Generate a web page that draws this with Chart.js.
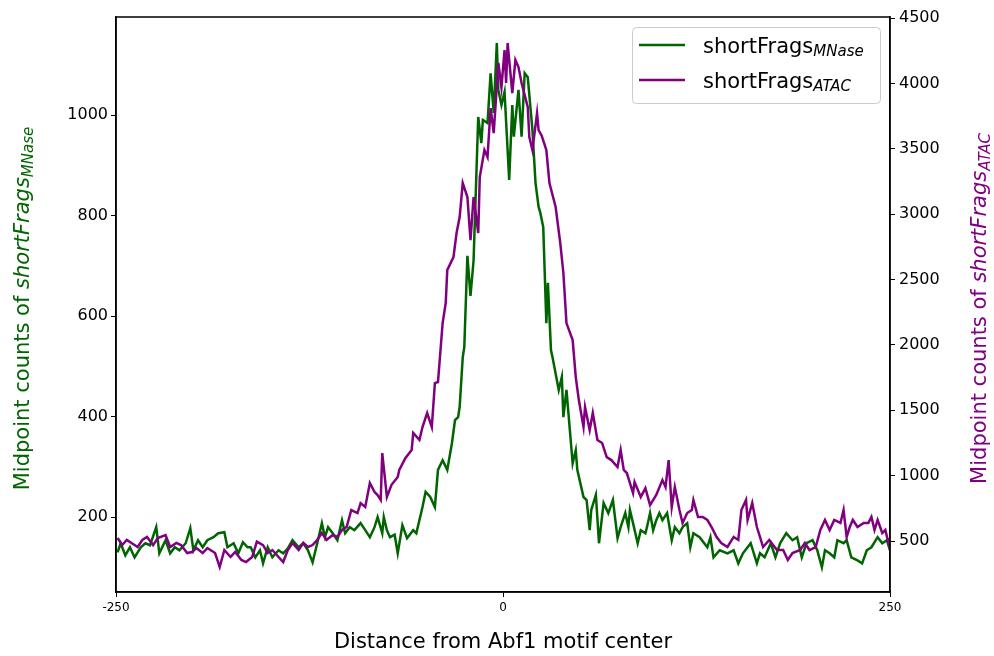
<!DOCTYPE html>
<html>
<head>
<meta charset="utf-8">
<script src="https://cdn.jsdelivr.net/npm/chart.js@4.4.1/dist/chart.umd.min.js"></script>
<style>
  html, body { margin: 0; padding: 0; background: #fff; }
  #wrap { width: 994px; height: 656px; position: relative; }
</style>
</head>
<body>
<div id="wrap"><canvas id="chart"></canvas></div>
<script>
// Data

// shortFrags MNase (left axis)
const mnasePos = [
  -249,-247,-244,-241,-238,-234,-231,-228,-224,-222,
  -218,-215,-212,-209,-205,-202,-200,-197,-194,-191,
  -187,-184,-180,-178,-174,-171,-168,-165,-163,-160,
  -157,-155,-152,-149,-145,-142,-139,-136,-132,-129,
  -126,-123,-120,-117,-115,-113,-110,-107,-104,-102,
  -99,-96,-92,-89,-86,-83,-81,-78,-77,-75,
  -73,-70,-68,-65,-62,-58,-56,-52,-50,-47,
  -44,-42,-39,-36,-33,-31,-29,-28,-26,-25,
  -23,-21,-19,-16,-14,-13,-10,-8,-6,-4,
  -3,-1,1,4,6,7,10,12,14,16,
  19,21,23,24,26,28,29,31,32,36,
  38,39,41,45,47,48,52,54,56,57,
  60,62,65,68,71,74,76,79,81,82,
  84,87,89,92,93,95,97,99,101,103,
  106,109,111,114,116,119,121,123,127,132,
  134,136,140,145,149,152,155,160,164,166,
  169,173,176,179,183,187,190,193,196,200,
  203,206,208,211,214,216,220,222,225,229,
  232,235,238,242,245,248,250
];
const mnaseVals = [
  130,148,124,140,120,140,148,144,180,128,
  154,128,140,134,148,178,134,154,140,154,
  160,168,170,140,148,128,150,140,140,120,
  134,108,140,120,134,128,138,154,140,148,
  134,110,148,188,160,180,168,154,194,168,
  180,174,188,174,160,180,200,168,200,174,
  160,165,128,184,158,174,168,220,250,240,
  220,294,313,294,347,393,399,419,518,538,
  720,640,711,996,944,990,984,1083,1004,1143,
  1050,1020,1046,871,1020,957,1050,957,1083,1075,
  971,865,817,807,777,586,666,532,518,453,
  479,399,453,307,333,294,240,234,174,214,
  244,148,228,208,234,158,180,208,180,214,
  188,148,174,168,180,208,174,194,208,194,
  208,154,180,168,180,188,140,168,160,140,
  160,120,134,128,134,108,128,148,108,128,
  120,148,120,148,168,154,160,120,148,154,
  134,100,134,128,120,154,148,154,120,114,
  108,134,140,160,148,154,134
];

// shortFrags ATAC (right axis)
const atacPos = [
  -249,-246,-243,-240,-236,-233,-230,-226,-223,-218,
  -215,-211,-208,-204,-201,-198,-194,-191,-186,-183,
  -180,-176,-173,-169,-166,-162,-159,-155,-152,-149,
  -145,-142,-139,-136,-132,-129,-126,-123,-120,-117,
  -114,-110,-107,-104,-101,-98,-94,-92,-89,-86,
  -83,-81,-79,-78,-75,-72,-68,-67,-63,-59,
  -58,-54,-52,-49,-46,-44,-42,-39,-37,-36,
  -32,-30,-28,-26,-23,-21,-19,-16,-15,-12,
  -10,-8,-6,-3,-1,1,2,3,6,8,
  10,12,16,17,19,22,23,25,28,30,
  34,37,39,41,45,47,49,52,53,56,
  58,61,64,67,70,74,76,78,80,84,
  85,89,92,95,99,103,105,107,109,111,
  114,116,119,122,123,126,129,132,135,138,
  141,145,149,152,154,157,158,161,164,166,
  168,172,177,181,184,187,192,195,198,202,
  205,208,211,214,218,220,222,224,226,229,
  233,236,238,240,242,245,247,249,250
];
const atacVals = [
  523,469,508,485,454,508,531,469,523,546,
  454,485,469,408,416,446,408,446,408,301,
  431,378,416,355,339,378,495,469,408,431,
  378,339,431,485,431,485,454,469,508,561,
  508,546,531,584,607,737,714,790,760,944,
  875,852,814,1173,837,930,990,1043,1135,1196,
  1326,1273,1372,1479,1372,1708,1716,2167,2320,2573,
  2672,2856,2978,3238,3131,2802,3131,2856,3284,3490,
  3437,3811,3620,4156,3972,4255,4003,4308,3926,4179,
  4125,4003,3819,3590,3490,3773,3643,3600,3490,3238,
  3055,2779,2550,2167,2037,1754,1578,1372,1525,1349,
  1479,1273,1250,1142,1119,1066,1196,1043,1020,867,
  951,837,905,775,852,966,913,1119,760,913,
  737,638,714,737,814,684,684,661,600,531,
  485,454,531,508,737,814,661,790,607,531,
  454,508,431,431,355,408,431,485,431,454,
  584,661,584,661,638,737,531,607,661,607,
  638,638,684,584,661,561,584,485,520
];

// Tick labels
const xTicks = [-250, 0, 250];
const leftTicks = [200, 400, 600, 800, 1000];
const rightTicks = [500, 1000, 1500, 2000, 2500, 3000, 3500, 4000, 4500];

const GREEN = '#006400';
const PURPLE = '#800080';
const FONT = "'DejaVu Sans', sans-serif";

// draw a run of text pieces (normal / italic / subscript), centred on x
function drawPieces(ctx, pieces, x, y) {
    let total = 0;
    pieces.forEach(p => { ctx.font = p.font; p.w = ctx.measureText(p.text).width; total += p.w; });
    let cx = x - total / 2;
    pieces.forEach(p => {
        ctx.font = p.font;
        ctx.fillText(p.text, cx, y + (p.dy || 0));
        cx += p.w;
    });
}

function labelPieces(sub, size) {
    const s = Math.round(size * 0.7);
    return [
        { text: 'Midpoint counts of ', font: `${size}px ${FONT}` },
        { text: 'shortFrags', font: `italic ${size}px ${FONT}` },
        { text: sub, font: `italic ${s}px ${FONT}`, dy: 4 }
    ];
}

// box round the plot, axis titles and legend with subscripts
const decorPlugin = {
    id: 'decor',
    afterDraw(chart) {
        const ctx = chart.ctx;
        const a = chart.chartArea;
        ctx.save();

        // frame
        ctx.strokeStyle = '#000';
        ctx.lineWidth = 1.5;
        ctx.strokeRect(a.left, a.top, a.right - a.left, a.bottom - a.top);

        ctx.textBaseline = 'alphabetic';
        ctx.textAlign = 'left';
        const size = 21;
        const midY = (a.top + a.bottom) / 2 + 4;

        // x title
        ctx.fillStyle = '#000';
        drawPieces(ctx, [{ text: 'Distance from Abf1 motif center', font: `${size}px ${FONT}` }],
            (a.left + a.right) / 2, 648);

        // left title
        ctx.save();
        ctx.translate(29, midY);
        ctx.rotate(-Math.PI / 2);
        ctx.fillStyle = GREEN;
        drawPieces(ctx, labelPieces('MNase', size), 0, 0);
        ctx.restore();

        // right title
        ctx.save();
        ctx.translate(986, midY);
        ctx.rotate(-Math.PI / 2);
        ctx.fillStyle = PURPLE;
        drawPieces(ctx, labelPieces('ATAC', size), 0, 0);
        ctx.restore();

        // legend
        const w = 248, h = 76;
        const lx = a.right - 10 - w, ly = a.top + 10;
        ctx.beginPath();
        ctx.roundRect(lx + 0.5, ly + 0.5, w, h, 4);
        ctx.fillStyle = 'rgba(255,255,255,0.8)';
        ctx.fill();
        ctx.strokeStyle = '#cccccc';
        ctx.lineWidth = 1;
        ctx.stroke();

        const rows = [
            { color: GREEN, sub: 'MNase', y: ly + 18 },
            { color: PURPLE, sub: 'ATAC', y: ly + 53 }
        ];
        rows.forEach(r => {
            ctx.strokeStyle = r.color;
            ctx.lineWidth = 2.5;
            ctx.beginPath();
            ctx.moveTo(lx + 7, r.y);
            ctx.lineTo(lx + 53, r.y);
            ctx.stroke();
            ctx.fillStyle = '#000';
            ctx.font = `${size}px ${FONT}`;
            ctx.fillText('shortFrags', lx + 71, r.y + 8);
            const tw = ctx.measureText('shortFrags').width;
            ctx.font = `italic ${Math.round(size * 0.7)}px ${FONT}`;
            ctx.fillText(r.sub, lx + 71 + tw, r.y + 11);
        });

        ctx.restore();
    }
};

const plain = v => String(v);

const ctx = document.getElementById('chart');

new Chart(ctx, {
    type: 'line',
    data: {
        datasets: [
            {
                label: 'shortFrags MNase',
                data: mnasePos.map((p, i) => ({ x: p, y: mnaseVals[i] })),
                borderColor: GREEN,
                borderWidth: 2.5,
                pointRadius: 0,
                tension: 0,
                yAxisID: 'yL',
                order: 2
            },
            {
                label: 'shortFrags ATAC',
                data: atacPos.map((p, i) => ({ x: p, y: atacVals[i] })),
                borderColor: PURPLE,
                borderWidth: 2.5,
                pointRadius: 0,
                tension: 0,
                yAxisID: 'yR',
                order: 1
            }
        ]
    },
    options: {
        responsive: true,
        maintainAspectRatio: false,
        animation: false,
        devicePixelRatio: 1,
        layout: { padding: { top: 17, left: 0, right: 0, bottom: 0 } },
        plugins: {
            legend: { display: false },
            tooltip: { enabled: false }
        },
        scales: {
            x: {
                type: 'linear',
                position: 'bottom',
                min: -250,
                max: 250,
                afterBuildTicks: s => { s.ticks = xTicks.map(v => ({ value: v })); },
                afterFit: s => { s.height = 64; },
                ticks: {
                    color: '#000',
                    font: { family: FONT, size: 12 },
                    padding: 4,
                    maxRotation: 0,
                    autoSkip: false,
                    callback: plain
                },
                grid: { drawOnChartArea: false, color: '#000', tickLength: 5, lineWidth: 1 },
                border: { color: '#000', width: 1.5 }
            },
            yL: {
                type: 'linear',
                position: 'left',
                min: 51,
                max: 1195,
                afterBuildTicks: s => { s.ticks = leftTicks.map(v => ({ value: v })); },
                afterFit: s => { s.width = 116; },
                ticks: {
                    color: '#000',
                    font: { family: FONT, size: 16 },
                    padding: 3,
                    callback: plain
                },
                grid: { drawOnChartArea: false, color: '#000', tickLength: 5, lineWidth: 1 },
                border: { color: '#000', width: 1.5 }
            },
            yR: {
                type: 'linear',
                position: 'right',
                min: 110,
                max: 4508,
                afterBuildTicks: s => { s.ticks = rightTicks.map(v => ({ value: v })); },
                afterFit: s => { s.width = 104; },
                ticks: {
                    color: '#000',
                    font: { family: FONT, size: 16 },
                    padding: 4,
                    callback: plain
                },
                grid: { drawOnChartArea: false, color: '#000', tickLength: 5, lineWidth: 1 },
                border: { color: '#000', width: 1.5 }
            }
        }
    },
    plugins: [decorPlugin]
});
</script>
</body>
</html>
